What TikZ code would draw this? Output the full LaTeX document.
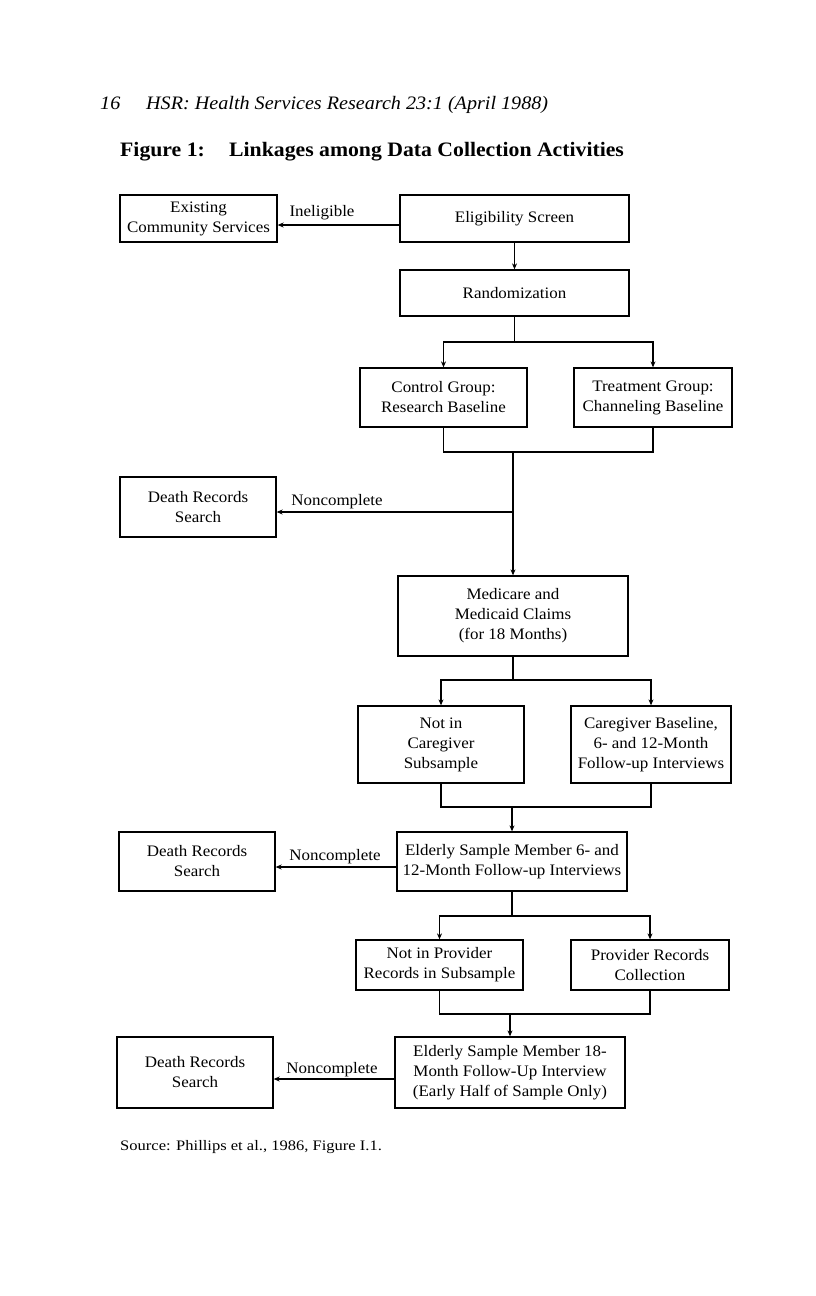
\documentclass[tikz,border=0pt]{standalone}
\usepackage{fontspec}
\setmainfont[FakeStretch=1.06]{Liberation Serif}
\newfontfamily\srcfont[FakeStretch=1.14]{Liberation Serif}
\usetikzlibrary{arrows.meta}
\begin{document}
\begin{tikzpicture}[x=1pt,y=-1pt,
  box/.style={draw,line width=1.3pt,rectangle,inner sep=0pt,align=center,font=\fontsize{16}{20}\selectfont},
  lbl/.style={inner sep=0pt,font=\fontsize{16}{20}\selectfont},
  hdrfont/.style={anchor=base west,inner sep=0pt,font=\fontsize{19}{22}\selectfont\itshape},
  ttlfont/.style={anchor=base west,inner sep=0pt,font=\fontsize{20.5}{24}\selectfont\bfseries},
  ln/.style={line width=1.3pt},
  arr/.style={line width=1.3pt,-{Stealth[length=6pt,width=5pt]}}]
\useasboundingbox (0,0) rectangle (816,1296);
% header
\node[hdrfont] (pg) at (100,109) {16};
\node[hdrfont] (hdr) at (146,109) {HSR: Health Services Research 23:1 (April 1988)};
\node[ttlfont] (fig) at (120,156) {Figure 1:};
\node[ttlfont] (ttl) at (229,156) {Linkages among Data Collection Activities};
% boxes
\node[box,minimum width=157,minimum height=47] (ecs) at (198.5,218.5) {Existing\\Community Services};
\node[box,minimum width=229,minimum height=47] (elig) at (514.5,218.5) {Eligibility Screen};
\node[box,minimum width=229,minimum height=46] (rand) at (514.5,293) {Randomization};
\node[box,minimum width=167,minimum height=59] (ctrl) at (443.5,397.5) {Control Group:\\Research Baseline};
\node[box,minimum width=158,minimum height=59] (treat) at (653,397.5) {Treatment Group:\\Channeling Baseline};
\node[box,minimum width=156,minimum height=60] (drs1) at (198,507) {Death Records\\Search};
\node[box,minimum width=230,minimum height=80] (med) at (513,616) {Medicare and\\Medicaid Claims\\(for 18 Months)};
\node[box,minimum width=166,minimum height=77] (notcg) at (441,744.5) {Not in\\Caregiver\\Subsample};
\node[box,minimum width=160,minimum height=77] (cgb) at (651,744.5) {Caregiver Baseline,\\6- and 12-Month\\Follow-up Interviews};
\node[box,minimum width=230,minimum height=59] (eld1) at (512,861.5) {Elderly Sample Member 6- and\\12-Month Follow-up Interviews};
\node[box,minimum width=156,minimum height=59] (drs2) at (197,861.5) {Death Records\\Search};
\node[box,minimum width=167,minimum height=50] (notpr) at (439.5,965) {Not in Provider\\Records in Subsample};
\node[box,minimum width=158,minimum height=50] (prc) at (650,965) {Provider Records\\Collection};
\node[box,minimum width=230,minimum height=71] (eld2) at (510,1072.5) {Elderly Sample Member 18-\\Month Follow-Up Interview\\(Early Half of Sample Only)};
\node[box,minimum width=156,minimum height=71] (drs3) at (195,1072.5) {Death Records\\Search};
% labels
\node[lbl] (l1) at (322,213) {Ineligible};
\node[lbl] (l2) at (337,502) {Noncomplete};
\node[lbl] (l3) at (335,857) {Noncomplete};
\node[lbl] (l4) at (332,1070) {Noncomplete};
\node[anchor=west,inner sep=0pt,font=\fontsize{14.5}{16}\srcfont] (src) at (120,1147) {Source: Phillips et al., 1986, Figure I.1.};
% coordinates
\coordinate (j1) at (514.5,342);
\coordinate (j2) at (513,452);
\coordinate (j2b) at (513,512);
\coordinate (j3) at (513,680);
\coordinate (j4) at (512,807);
\coordinate (j5) at (512,916);
\coordinate (j6) at (510,1014);
% connectors
\draw[arr] ([yshift=-6.5pt]elig.west) -- ([yshift=-6.5pt]ecs.east);
\draw[arr] (elig.south) -- (rand.north);
\draw[ln] (rand.south) -- (j1);
\draw[arr] (j1) -- (ctrl.north |- j1) -- (ctrl.north);
\draw[arr] (j1) -- (treat.north |- j1) -- (treat.north);
\draw[ln] (ctrl.south) -- (ctrl.south |- j2) -- (treat.south |- j2) -- (treat.south);
\draw[arr] (j2) -- (med.north);
\draw[arr] (j2b) -- (drs1.east |- j2b);
\draw[ln] (med.south) -- (j3);
\draw[arr] (j3) -- (notcg.north |- j3) -- (notcg.north);
\draw[arr] (j3) -- (cgb.north |- j3) -- (cgb.north);
\draw[ln] (notcg.south) -- (notcg.south |- j4) -- (cgb.south |- j4) -- (cgb.south);
\draw[arr] (j4) -- (eld1.north);
\draw[arr] ([yshift=-5.5pt]eld1.west) -- ([yshift=-5.5pt]drs2.east);
\draw[ln] (eld1.south) -- (j5);
\draw[arr] (j5) -- (notpr.north |- j5) -- (notpr.north);
\draw[arr] (j5) -- (prc.north |- j5) -- (prc.north);
\draw[ln] (notpr.south) -- (notpr.south |- j6) -- (prc.south |- j6) -- (prc.south);
\draw[arr] (j6) -- (eld2.north);
\draw[arr] ([yshift=-6.5pt]eld2.west) -- ([yshift=-6.5pt]drs3.east);
\end{tikzpicture}
\end{document}
